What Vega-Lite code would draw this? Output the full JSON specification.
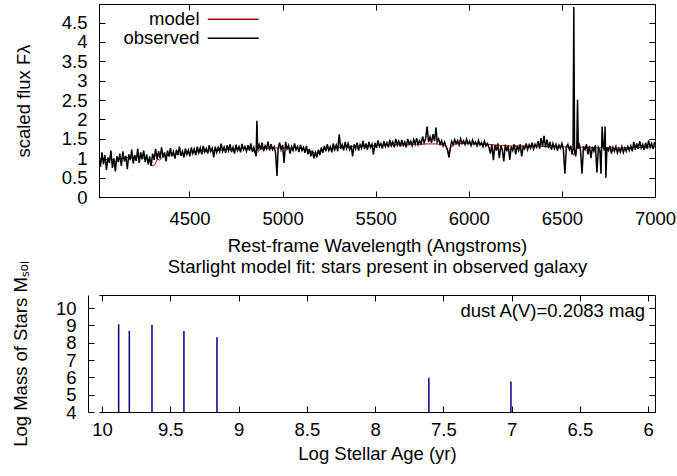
{
  "$schema": "https://vega.github.io/schema/vega-lite/v6.json",
  "background": "white",
  "padding": {"left": 11, "top": 3, "right": 5, "bottom": 5},
  "spacing": 98,
  "bounds": "flush",
  "config": {
    "font": "Liberation Sans",
    "view": {"stroke": "#000000", "strokeWidth": 1},
    "axis": {
      "labelFontSize": 18.5, "titleFontSize": 18.5, "titleFontWeight": "normal",
      "labelColor": "#000000", "titleColor": "#000000", "tickColor": "#000000", "domainColor": "#000000",
      "tickSize": -6, "tickWidth": 1, "domainWidth": 1, "labelPadding": 18,
      "labelFlush": false, "labelOverlap": false, "labelBound": false, "grid": false
    },
    "title": {"fontSize": 18.5, "fontWeight": "normal", "color": "#000000"},
    "legend": {"labelFontSize": 18.5, "labelColor": "#000000"}
  },
  "vconcat": [
    {
      "width": 556,
      "height": 193,
      "layer": [
        {
          "data": {"values": [
            {"w":4014,"f":1.00},{"w":4040,"f":0.95},{"w":4065,"f":0.98},{"w":4090,"f":0.96},{"w":4101,"f":0.90},{"w":4115,"f":0.98},{"w":4140,"f":1.00},{"w":4165,"f":1.02},{"w":4190,"f":1.01},{"w":4215,"f":1.04},{"w":4240,"f":1.02},{"w":4265,"f":1.00},{"w":4290,"f":0.88},{"w":4300,"f":0.80},{"w":4315,"f":0.84},{"w":4328,"f":0.98},{"w":4340,"f":0.95},{"w":4360,"f":1.06},{"w":4385,"f":1.08},{"w":4410,"f":1.09},{"w":4435,"f":1.10},{"w":4460,"f":1.12},{"w":4485,"f":1.13},{"w":4510,"f":1.14},{"w":4535,"f":1.16},{"w":4560,"f":1.17},{"w":4585,"f":1.18},{"w":4610,"f":1.19},{"w":4635,"f":1.20},{"w":4660,"f":1.21},{"w":4685,"f":1.22},{"w":4710,"f":1.23},{"w":4735,"f":1.23},{"w":4760,"f":1.24},{"w":4785,"f":1.25},{"w":4810,"f":1.25},{"w":4835,"f":1.24},{"w":4861,"f":1.14},{"w":4885,"f":1.25},{"w":4910,"f":1.26},{"w":4935,"f":1.26},{"w":4960,"f":1.27},{"w":4985,"f":1.26},{"w":5010,"f":1.27},{"w":5035,"f":1.26},{"w":5060,"f":1.27},{"w":5085,"f":1.26},{"w":5110,"f":1.24},{"w":5135,"f":1.22},{"w":5160,"f":1.16},{"w":5175,"f":1.12},{"w":5190,"f":1.16},{"w":5215,"f":1.22},{"w":5240,"f":1.25},{"w":5270,"f":1.23},{"w":5295,"f":1.28},{"w":5320,"f":1.29},{"w":5345,"f":1.30},{"w":5370,"f":1.30},{"w":5395,"f":1.31},{"w":5420,"f":1.31},{"w":5445,"f":1.32},{"w":5470,"f":1.32},{"w":5495,"f":1.33},{"w":5520,"f":1.33},{"w":5545,"f":1.33},{"w":5570,"f":1.34},{"w":5595,"f":1.34},{"w":5620,"f":1.35},{"w":5645,"f":1.34},{"w":5670,"f":1.35},{"w":5695,"f":1.36},{"w":5720,"f":1.36},{"w":5745,"f":1.36},{"w":5770,"f":1.37},{"w":5795,"f":1.37},{"w":5820,"f":1.37},{"w":5845,"f":1.36},{"w":5870,"f":1.34},{"w":5885,"f":1.25},{"w":5893,"f":1.10},{"w":5902,"f":1.26},{"w":5920,"f":1.36},{"w":5945,"f":1.38},{"w":5970,"f":1.38},{"w":5995,"f":1.38},{"w":6020,"f":1.37},{"w":6045,"f":1.37},{"w":6070,"f":1.36},{"w":6095,"f":1.36},{"w":6120,"f":1.35},{"w":6145,"f":1.34},{"w":6170,"f":1.33},{"w":6195,"f":1.33},{"w":6220,"f":1.32},{"w":6245,"f":1.32},{"w":6270,"f":1.32},{"w":6295,"f":1.31},{"w":6320,"f":1.31},{"w":6345,"f":1.31},{"w":6370,"f":1.31},{"w":6395,"f":1.31},{"w":6420,"f":1.30},{"w":6445,"f":1.30},{"w":6470,"f":1.30},{"w":6495,"f":1.30},{"w":6520,"f":1.29},{"w":6545,"f":1.27},{"w":6556,"f":1.15},{"w":6563,"f":1.08},{"w":6570,"f":1.18},{"w":6585,"f":1.27},{"w":6610,"f":1.29},{"w":6635,"f":1.28},{"w":6660,"f":1.28},{"w":6685,"f":1.27},{"w":6710,"f":1.27},{"w":6735,"f":1.27},{"w":6760,"f":1.27},{"w":6785,"f":1.26},{"w":6810,"f":1.26},{"w":6835,"f":1.27},{"w":6860,"f":1.27},{"w":6885,"f":1.28},{"w":6910,"f":1.28},{"w":6935,"f":1.28},{"w":6960,"f":1.29},{"w":6985,"f":1.29},{"w":7000,"f":1.29}
          ]},
          "mark": {"type": "line", "strokeWidth": 1, "clip": true},
          "encoding": {
            "x": {"field": "w", "type": "quantitative", "scale": {"domain": [4014, 7000], "nice": false, "zero": false},
                  "axis": {"orient": "bottom", "title": ["Rest-frame Wavelength (Angstroms)", "Starlight model fit: stars present in observed galaxy"], "titleLineHeight": 21, "values": [4500, 5000, 5500, 6000, 6500, 7000], "format": "d", "titlePadding": 9}},
            "y": {"field": "f", "type": "quantitative", "scale": {"domain": [0, 4.98], "nice": false, "zero": false},
                  "axis": {"orient": "left", "title": "scaled flux  Fλ", "values": [0, 0.5, 1, 1.5, 2, 2.5, 3, 3.5, 4, 4.5], "format": "~r", "titlePadding": 28}},
            "color": {"datum": "model", "type": "nominal",
                      "scale": {"domain": ["model", "observed"], "range": ["#c00000", "#000000"]},
                      "legend": {"title": null, "orient": "none", "legendX": 125, "legendY": 6, "symbolType": "M-5,0H5", "symbolSize": 104, "symbolStrokeWidth": 1.5, "labelAlign": "right", "labelOffset": -43, "rowPadding": 0, "padding": 0, "labelFontSize": 18.5}}
          }
        },
        {
          "data": {"values": [
            {"w":4014,"f":1.05},{"w":4022,"f":0.78},{"w":4030,"f":1.15},{"w":4038,"f":0.85},{"w":4046,"f":1.08},{"w":4054,"f":0.70},{"w":4062,"f":1.02},{"w":4070,"f":0.88},{"w":4078,"f":1.20},{"w":4086,"f":0.75},{"w":4094,"f":1.00},{"w":4102,"f":0.66},{"w":4110,"f":1.05},{"w":4118,"f":0.90},{"w":4126,"f":1.12},{"w":4134,"f":0.80},{"w":4142,"f":1.18},{"w":4150,"f":0.92},{"w":4158,"f":1.06},{"w":4166,"f":0.72},{"w":4174,"f":1.10},{"w":4182,"f":0.95},{"w":4190,"f":1.22},{"w":4198,"f":0.86},{"w":4206,"f":1.08},{"w":4214,"f":0.93},{"w":4222,"f":1.25},{"w":4230,"f":0.88},{"w":4238,"f":1.15},{"w":4246,"f":0.97},{"w":4254,"f":1.20},{"w":4262,"f":0.90},{"w":4270,"f":1.10},{"w":4278,"f":0.84},{"w":4286,"f":1.05},{"w":4294,"f":0.80},{"w":4302,"f":1.12},{"w":4310,"f":0.96},{"w":4318,"f":1.24},{"w":4326,"f":0.98},{"w":4334,"f":1.18},{"w":4342,"f":1.00},{"w":4350,"f":1.28},{"w":4358,"f":1.02},{"w":4366,"f":1.15},{"w":4374,"f":0.92},{"w":4382,"f":1.20},{"w":4390,"f":1.04},{"w":4398,"f":1.26},{"w":4406,"f":1.05},{"w":4414,"f":1.17},{"w":4422,"f":0.99},{"w":4430,"f":1.22},{"w":4438,"f":1.08},{"w":4446,"f":1.30},{"w":4454,"f":1.06},{"w":4462,"f":1.18},{"w":4470,"f":1.02},{"w":4478,"f":1.25},{"w":4486,"f":1.10},{"w":4494,"f":1.21},{"w":4502,"f":1.05},{"w":4510,"f":1.28},{"w":4518,"f":1.12},{"w":4526,"f":1.24},{"w":4534,"f":1.08},{"w":4542,"f":1.30},{"w":4550,"f":1.14},{"w":4558,"f":1.27},{"w":4566,"f":1.10},{"w":4574,"f":1.32},{"w":4582,"f":1.16},{"w":4590,"f":1.25},{"w":4598,"f":1.12},{"w":4606,"f":1.34},{"w":4614,"f":1.18},{"w":4622,"f":1.26},{"w":4630,"f":1.02},{"w":4638,"f":1.30},{"w":4646,"f":1.15},{"w":4654,"f":1.28},{"w":4662,"f":1.17},{"w":4670,"f":1.38},{"w":4678,"f":1.18},{"w":4686,"f":1.29},{"w":4694,"f":1.14},{"w":4702,"f":1.33},{"w":4710,"f":1.20},{"w":4718,"f":1.36},{"w":4726,"f":1.16},{"w":4734,"f":1.28},{"w":4742,"f":1.12},{"w":4750,"f":1.35},{"w":4758,"f":1.20},{"w":4766,"f":1.30},{"w":4774,"f":1.15},{"w":4782,"f":1.37},{"w":4790,"f":1.22},{"w":4798,"f":1.30},{"w":4806,"f":1.18},{"w":4814,"f":1.34},{"w":4822,"f":1.20},{"w":4830,"f":1.38},{"w":4838,"f":1.16},{"w":4846,"f":1.28},{"w":4854,"f":1.10},{"w":4858,"f":1.05},{"w":4862,"f":1.97},{"w":4866,"f":1.20},{"w":4874,"f":1.35},{"w":4882,"f":1.22},{"w":4890,"f":1.40},{"w":4898,"f":1.18},{"w":4906,"f":1.32},{"w":4914,"f":1.24},{"w":4922,"f":1.43},{"w":4930,"f":1.20},{"w":4938,"f":1.36},{"w":4946,"f":1.22},{"w":4954,"f":1.30},{"w":4962,"f":1.15},{"w":4970,"f":0.54},{"w":4976,"f":1.25},{"w":4984,"f":1.40},{"w":4992,"f":1.22},{"w":5000,"f":1.34},{"w":5008,"f":0.88},{"w":5016,"f":1.42},{"w":5024,"f":1.24},{"w":5032,"f":1.33},{"w":5040,"f":1.12},{"w":5048,"f":1.30},{"w":5056,"f":1.20},{"w":5064,"f":1.38},{"w":5072,"f":1.22},{"w":5080,"f":1.30},{"w":5088,"f":1.16},{"w":5096,"f":1.35},{"w":5104,"f":1.20},{"w":5112,"f":1.28},{"w":5120,"f":1.14},{"w":5128,"f":1.32},{"w":5136,"f":1.10},{"w":5144,"f":1.24},{"w":5152,"f":1.05},{"w":5160,"f":1.20},{"w":5168,"f":1.00},{"w":5176,"f":1.15},{"w":5184,"f":1.02},{"w":5192,"f":1.22},{"w":5200,"f":1.08},{"w":5208,"f":1.28},{"w":5216,"f":1.14},{"w":5224,"f":1.32},{"w":5232,"f":1.18},{"w":5240,"f":1.36},{"w":5248,"f":1.20},{"w":5256,"f":1.30},{"w":5264,"f":1.15},{"w":5272,"f":1.38},{"w":5280,"f":1.22},{"w":5288,"f":1.34},{"w":5296,"f":1.18},{"w":5304,"f":1.62},{"w":5312,"f":1.24},{"w":5320,"f":1.35},{"w":5328,"f":1.20},{"w":5336,"f":1.42},{"w":5344,"f":1.25},{"w":5352,"f":1.38},{"w":5360,"f":1.22},{"w":5368,"f":1.33},{"w":5376,"f":1.05},{"w":5384,"f":1.36},{"w":5392,"f":1.24},{"w":5400,"f":1.40},{"w":5408,"f":1.20},{"w":5416,"f":1.35},{"w":5424,"f":1.26},{"w":5432,"f":1.45},{"w":5440,"f":1.24},{"w":5448,"f":1.38},{"w":5456,"f":1.22},{"w":5464,"f":1.42},{"w":5472,"f":1.28},{"w":5480,"f":1.36},{"w":5488,"f":1.10},{"w":5496,"f":1.40},{"w":5504,"f":1.26},{"w":5512,"f":1.46},{"w":5520,"f":1.30},{"w":5528,"f":1.38},{"w":5536,"f":1.25},{"w":5544,"f":1.44},{"w":5552,"f":1.30},{"w":5560,"f":1.40},{"w":5568,"f":1.28},{"w":5576,"f":1.48},{"w":5584,"f":1.32},{"w":5592,"f":1.42},{"w":5600,"f":1.28},{"w":5608,"f":1.50},{"w":5616,"f":1.34},{"w":5624,"f":1.44},{"w":5632,"f":1.30},{"w":5640,"f":1.47},{"w":5648,"f":1.33},{"w":5656,"f":1.42},{"w":5664,"f":1.28},{"w":5672,"f":1.50},{"w":5680,"f":1.36},{"w":5688,"f":1.44},{"w":5696,"f":1.32},{"w":5704,"f":1.48},{"w":5712,"f":1.36},{"w":5720,"f":1.52},{"w":5728,"f":1.35},{"w":5736,"f":1.45},{"w":5744,"f":1.38},{"w":5752,"f":1.56},{"w":5760,"f":1.40},{"w":5768,"f":1.50},{"w":5776,"f":1.82},{"w":5784,"f":1.42},{"w":5792,"f":1.55},{"w":5800,"f":1.40},{"w":5808,"f":1.62},{"w":5816,"f":1.45},{"w":5824,"f":1.79},{"w":5830,"f":1.42},{"w":5838,"f":1.50},{"w":5846,"f":1.36},{"w":5854,"f":1.45},{"w":5862,"f":1.32},{"w":5870,"f":1.42},{"w":5878,"f":1.30},{"w":5886,"f":1.20},{"w":5894,"f":1.02},{"w":5900,"f":1.25},{"w":5908,"f":1.44},{"w":5916,"f":1.35},{"w":5924,"f":1.48},{"w":5932,"f":1.38},{"w":5940,"f":1.46},{"w":5948,"f":1.34},{"w":5956,"f":1.50},{"w":5964,"f":1.38},{"w":5972,"f":1.45},{"w":5980,"f":1.35},{"w":5988,"f":1.49},{"w":5996,"f":1.37},{"w":6004,"f":1.44},{"w":6012,"f":1.33},{"w":6020,"f":1.47},{"w":6028,"f":1.36},{"w":6036,"f":1.42},{"w":6044,"f":1.32},{"w":6052,"f":1.46},{"w":6060,"f":1.34},{"w":6068,"f":1.40},{"w":6076,"f":1.30},{"w":6084,"f":1.44},{"w":6092,"f":1.32},{"w":6100,"f":1.38},{"w":6108,"f":1.28},{"w":6116,"f":1.12},{"w":6124,"f":1.36},{"w":6132,"f":0.95},{"w":6140,"f":1.34},{"w":6148,"f":1.20},{"w":6156,"f":1.38},{"w":6164,"f":1.00},{"w":6172,"f":1.32},{"w":6180,"f":1.22},{"w":6188,"f":0.92},{"w":6196,"f":1.35},{"w":6204,"f":1.18},{"w":6212,"f":1.33},{"w":6220,"f":0.96},{"w":6228,"f":1.30},{"w":6236,"f":1.20},{"w":6244,"f":1.36},{"w":6252,"f":1.10},{"w":6260,"f":1.32},{"w":6268,"f":1.20},{"w":6276,"f":1.36},{"w":6284,"f":1.05},{"w":6292,"f":1.30},{"w":6300,"f":1.24},{"w":6308,"f":1.38},{"w":6316,"f":1.22},{"w":6324,"f":1.35},{"w":6332,"f":1.26},{"w":6340,"f":1.40},{"w":6348,"f":1.24},{"w":6356,"f":1.36},{"w":6364,"f":1.28},{"w":6372,"f":1.44},{"w":6380,"f":1.25},{"w":6388,"f":1.52},{"w":6396,"f":1.30},{"w":6404,"f":1.58},{"w":6412,"f":1.28},{"w":6420,"f":1.48},{"w":6428,"f":1.26},{"w":6436,"f":1.42},{"w":6444,"f":1.22},{"w":6452,"f":1.38},{"w":6460,"f":1.25},{"w":6468,"f":1.36},{"w":6476,"f":1.20},{"w":6484,"f":1.34},{"w":6492,"f":1.26},{"w":6500,"f":1.38},{"w":6508,"f":1.22},{"w":6516,"f":0.60},{"w":6524,"f":1.30},{"w":6532,"f":1.36},{"w":6540,"f":1.22},{"w":6548,"f":1.32},{"w":6554,"f":1.10},{"w":6560,"f":1.25},{"w":6564,"f":4.90},{"w":6568,"f":1.20},{"w":6574,"f":1.05},{"w":6580,"f":1.32},{"w":6584,"f":2.51},{"w":6588,"f":1.25},{"w":6594,"f":1.34},{"w":6600,"f":1.20},{"w":6608,"f":0.60},{"w":6616,"f":1.30},{"w":6624,"f":1.22},{"w":6632,"f":1.36},{"w":6640,"f":1.10},{"w":6648,"f":1.32},{"w":6656,"f":1.00},{"w":6664,"f":1.30},{"w":6672,"f":1.18},{"w":6680,"f":1.34},{"w":6688,"f":0.63},{"w":6696,"f":1.28},{"w":6704,"f":1.20},{"w":6710,"f":0.60},{"w":6716,"f":1.82},{"w":6722,"f":1.30},{"w":6728,"f":1.20},{"w":6732,"f":1.82},{"w":6736,"f":0.50},{"w":6742,"f":1.28},{"w":6750,"f":1.20},{"w":6758,"f":1.32},{"w":6766,"f":1.12},{"w":6774,"f":1.28},{"w":6782,"f":1.18},{"w":6790,"f":1.30},{"w":6798,"f":1.14},{"w":6806,"f":1.26},{"w":6814,"f":1.16},{"w":6822,"f":1.30},{"w":6830,"f":1.15},{"w":6838,"f":1.27},{"w":6846,"f":1.18},{"w":6854,"f":1.30},{"w":6862,"f":1.20},{"w":6870,"f":1.32},{"w":6878,"f":1.18},{"w":6886,"f":1.42},{"w":6894,"f":1.22},{"w":6902,"f":1.38},{"w":6910,"f":1.24},{"w":6918,"f":1.44},{"w":6926,"f":1.26},{"w":6934,"f":1.36},{"w":6942,"f":1.22},{"w":6950,"f":1.40},{"w":6958,"f":1.25},{"w":6966,"f":1.46},{"w":6974,"f":1.28},{"w":6982,"f":1.38},{"w":6990,"f":1.24},{"w":6998,"f":1.42}
          ]},
          "mark": {"type": "line", "strokeWidth": 1.5, "clip": true},
          "encoding": {
            "x": {"field": "w", "type": "quantitative",
                  "axis": {"orient": "top", "labels": false, "title": null, "values": [4500, 5000, 5500, 6000, 6500, 7000]}},
            "y": {"field": "f", "type": "quantitative",
                  "axis": {"orient": "right", "labels": false, "title": null, "values": [0, 0.5, 1, 1.5, 2, 2.5, 3, 3.5, 4, 4.5]}},
            "color": {"datum": "observed", "type": "nominal"}
          }
        }
      ],
      "resolve": {"axis": {"x": "independent", "y": "independent"}}
    },
    {
      "width": 556,
      "height": 117,
      "view": {"stroke": null},
      "layer": [
        {
          "data": {"values": [
            {"age": 9.878, "mass": 9.06},
            {"age": 9.80, "mass": 8.68},
            {"age": 9.634, "mass": 9.03},
            {"age": 9.40, "mass": 8.68},
            {"age": 9.158, "mass": 8.31},
            {"age": 7.606, "mass": 5.98},
            {"age": 7.005, "mass": 5.76}
          ]},
          "mark": {"type": "rule", "color": "#00008b", "strokeWidth": 1.5},
          "encoding": {
            "x": {"field": "age", "type": "quantitative", "scale": {"domain": [5.95, 10.022], "reverse": true, "nice": false, "zero": false},
                  "axis": {"orient": "bottom", "title": "Log Stellar Age (yr)", "values": [6, 6.5, 7, 7.5, 8, 8.5, 9, 9.5, 10], "format": "~r", "labelPadding": 14, "titlePadding": 6}},
            "y": {"field": "mass", "type": "quantitative", "scale": {"domain": [4, 10.75], "nice": false, "zero": false},
                  "axis": {"orient": "left", "title": "Log Mass of Stars Mₛₒₗ", "values": [4, 5, 6, 7, 8, 9, 10], "format": "d", "offset": 11, "titlePadding": 25}},
            "y2": {"datum": 4}
          }
        },
        {
          "data": {"values": [
            {"age": 9.878, "mass": 9.06},
            {"age": 7.005, "mass": 5.76}
          ]},
          "mark": {"type": "rule", "opacity": 0},
          "encoding": {
            "x": {"field": "age", "type": "quantitative",
                  "axis": {"orient": "top", "labels": false, "title": null, "values": [6, 6.5, 7, 7.5, 8, 8.5, 9, 9.5, 10]}},
            "y": {"field": "mass", "type": "quantitative",
                  "axis": {"orient": "right", "labels": false, "title": null, "values": [4, 5, 6, 7, 8, 9, 10]}}
          }
        },
        {
          "data": {"values": [{"label": "dust A(V)=0.2083 mag"}]},
          "mark": {"type": "text", "align": "right", "baseline": "middle", "fontSize": 18.5, "color": "#000000"},
          "encoding": {
            "x": {"datum": 6.023, "type": "quantitative", "axis": null},
            "y": {"datum": 9.83, "type": "quantitative", "axis": null},
            "text": {"field": "label", "type": "nominal"}
          }
        }
      ],
      "resolve": {"axis": {"x": "independent", "y": "independent"}}
    }
  ]
}
